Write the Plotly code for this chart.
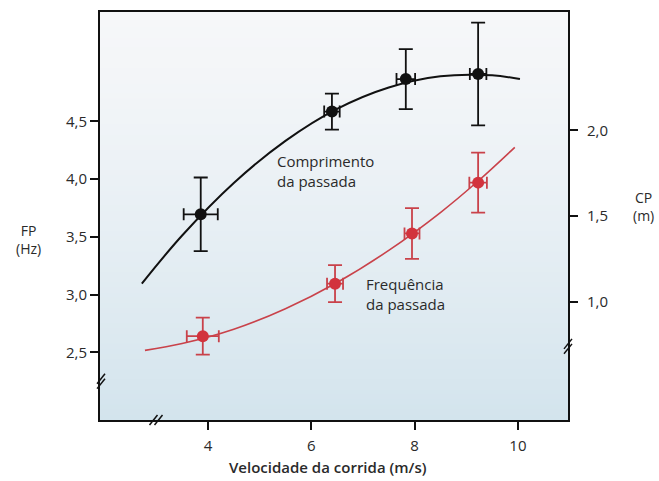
import plotly.graph_objects as go

# ---------------- data ----------------
speed_cp = [3.86, 6.40, 7.83, 9.23]
cp_values = [1.51, 2.11, 2.30, 2.33]
cp_err = [0.215, 0.105, 0.175, 0.30]
cp_speed_err = [0.33, 0.15, 0.18, 0.16]

speed_fp = [3.90, 6.46, 7.95, 9.23]
fp_values = [2.64, 3.095, 3.53, 3.97]
fp_err = [0.16, 0.16, 0.22, 0.26]
fp_speed_err = [0.31, 0.155, 0.145, 0.17]

cp_curve_x = [2.72, 3.5, 4.5, 5.5, 6.5, 7.5, 8.5, 9.5, 10.04]
cp_curve_y = [1.105, 1.386, 1.693, 1.939, 2.126, 2.251, 2.317, 2.322, 2.30]
fp_curve_x = [2.78, 3.5, 4.5, 5.5, 6.5, 7.5, 8.5, 9.23, 9.94]
fp_curve_y = [2.517, 2.576, 2.70, 2.878, 3.105, 3.383, 3.711, 3.984, 4.276]

x_ticks = [4, 6, 8, 10]
x_tick_labels = ["4", "6", "8", "10"]
fp_ticks = [2.5, 3.0, 3.5, 4.0, 4.5]
fp_tick_labels = ["2,5", "3,0", "3,5", "4,0", "4,5"]
cp_ticks = [1.0, 1.5, 2.0]
cp_tick_labels = ["1,0", "1,5", "2,0"]

# ---------------- styling ----------------
W, H = 659, 481
L, R, T, B = 100, 568, 10, 420  # plot box in window pixels
FONT = "Open Sans"
TXT = "#2a2a2a"
BLACK = "#111111"
RED_M = "#d2333d"
RED_L = "#c9424a"


def px(xp):
    return (xp - L) / (R - L)


def py(yp):
    return (B - yp) / (B - T)


fig = go.Figure()

# curves
fig.add_trace(go.Scatter(x=cp_curve_x, y=cp_curve_y, yaxis="y2", mode="lines",
                         line=dict(color=BLACK, width=2, shape="spline"),
                         hoverinfo="skip", showlegend=False))
fig.add_trace(go.Scatter(x=fp_curve_x, y=fp_curve_y, yaxis="y", mode="lines",
                         line=dict(color=RED_L, width=1.6, shape="spline"),
                         hoverinfo="skip", showlegend=False))

# points with error bars
fig.add_trace(go.Scatter(x=speed_cp, y=cp_values, yaxis="y2", mode="markers",
                         marker=dict(color=BLACK, size=12),
                         error_y=dict(type="data", array=cp_err, color=BLACK, thickness=1.8, width=7),
                         error_x=dict(type="data", array=cp_speed_err, color=BLACK, thickness=1.8, width=6),
                         showlegend=False))
fig.add_trace(go.Scatter(x=speed_fp, y=fp_values, yaxis="y", mode="markers",
                         marker=dict(color=RED_M, size=12),
                         error_y=dict(type="data", array=fp_err, color=RED_L, thickness=1.8, width=7),
                         error_x=dict(type="data", array=fp_speed_err, color=RED_L, thickness=1.8, width=6),
                         showlegend=False))

# background gradient (strips)
shapes = []
N = 80
top = (246, 247, 249)
bot = (211, 228, 237)
for i in range(N):
    t = (i + 0.5) / N  # 0 at bottom, 1 at top
    s = (1 - t) ** 1.3
    c = tuple(int(round(top[k] + (bot[k] - top[k]) * s)) for k in range(3))
    shapes.append(dict(type="rect", xref="paper", yref="paper", x0=0, x1=1,
                       y0=i / N, y1=(i + 1) / N + 0.002, line=dict(width=0),
                       fillcolor="rgb(%d,%d,%d)" % c, layer="below"))


# axis break marks (double slashes)
def brk(cx, cy, dx, dy, horiz):
    out = []
    for o in (-2.5, 2.5):
        if horiz:
            x0, y0, x1, y1 = cx + o - dx, cy + dy, cx + o + dx, cy - dy
        else:
            x0, y0, x1, y1 = cx - dx, cy + o + dy, cx + dx, cy + o - dy
        out.append(dict(type="line", xref="paper", yref="paper",
                        x0=px(x0), y0=py(y0), x1=px(x1), y1=py(y1),
                        line=dict(color=BLACK, width=1.5), layer="above"))
    return out


shapes += brk(101, 381, 4, 5, False)
shapes += brk(156, 420, 4, 5, True)
shapes += brk(568, 346, 4, 5, False)

ann = []


def label(text, xp, yp, size=14, anchor="left", align="left", weight=None):
    f = dict(family=FONT, size=size, color=TXT)
    if weight:
        f["weight"] = weight
    ann.append(dict(text=text, x=px(xp), y=py(yp), xref="paper", yref="paper",
                    xanchor=anchor, yanchor="middle", align=align,
                    showarrow=False, font=f))


label("Comprimento<br>da passada", 275, 170, size=15)
label("Frequência<br>da passada", 364, 293, size=15)
label("FP<br>(Hz)", 28, 239, size=14, anchor="center", align="center")
label("CP<br>(m)", 643, 205, size=14, anchor="center", align="center")
label("Velocidade da corrida (m/s)", 328, 467, size=15, anchor="center", weight=600)

tickfont = dict(family=FONT, size=15, color=TXT)
fig.update_layout(
    width=W, height=H,
    margin=dict(l=L, r=W - R, t=T, b=H - B),
    paper_bgcolor="white", plot_bgcolor="rgb(230,237,242)",
    shapes=shapes, annotations=ann,
    xaxis=dict(range=[1.91, 10.97], tickvals=x_ticks, ticktext=x_tick_labels,
               showgrid=False, zeroline=False, showline=True, mirror=True,
               linecolor=BLACK, linewidth=2, ticks="outside", ticklen=8,
               tickwidth=1.5, tickcolor=BLACK, tickfont=tickfont,
               ticklabelstandoff=3),
    yaxis=dict(range=[1.914, 5.448], tickvals=fp_ticks, ticktext=fp_tick_labels,
               showgrid=False, zeroline=False, showline=True,
               linecolor=BLACK, linewidth=2, ticks="outside", ticklen=8,
               tickwidth=1.5, tickcolor=BLACK, tickfont=tickfont),
    yaxis2=dict(range=[0.308, 2.692], tickvals=cp_ticks, ticktext=cp_tick_labels,
                overlaying="y", side="right", showgrid=False, zeroline=False,
                showline=True, linecolor=BLACK, linewidth=2, ticks="outside",
                ticklen=8, tickwidth=1.5, tickcolor=BLACK, tickfont=tickfont,
                ticklabelstandoff=6),
)

fig.write_html(
    "out.html",
    config={"displayModeBar": False},
    post_script="document.body.style.margin='0';"
                "document.documentElement.style.overflow='hidden';",
)
